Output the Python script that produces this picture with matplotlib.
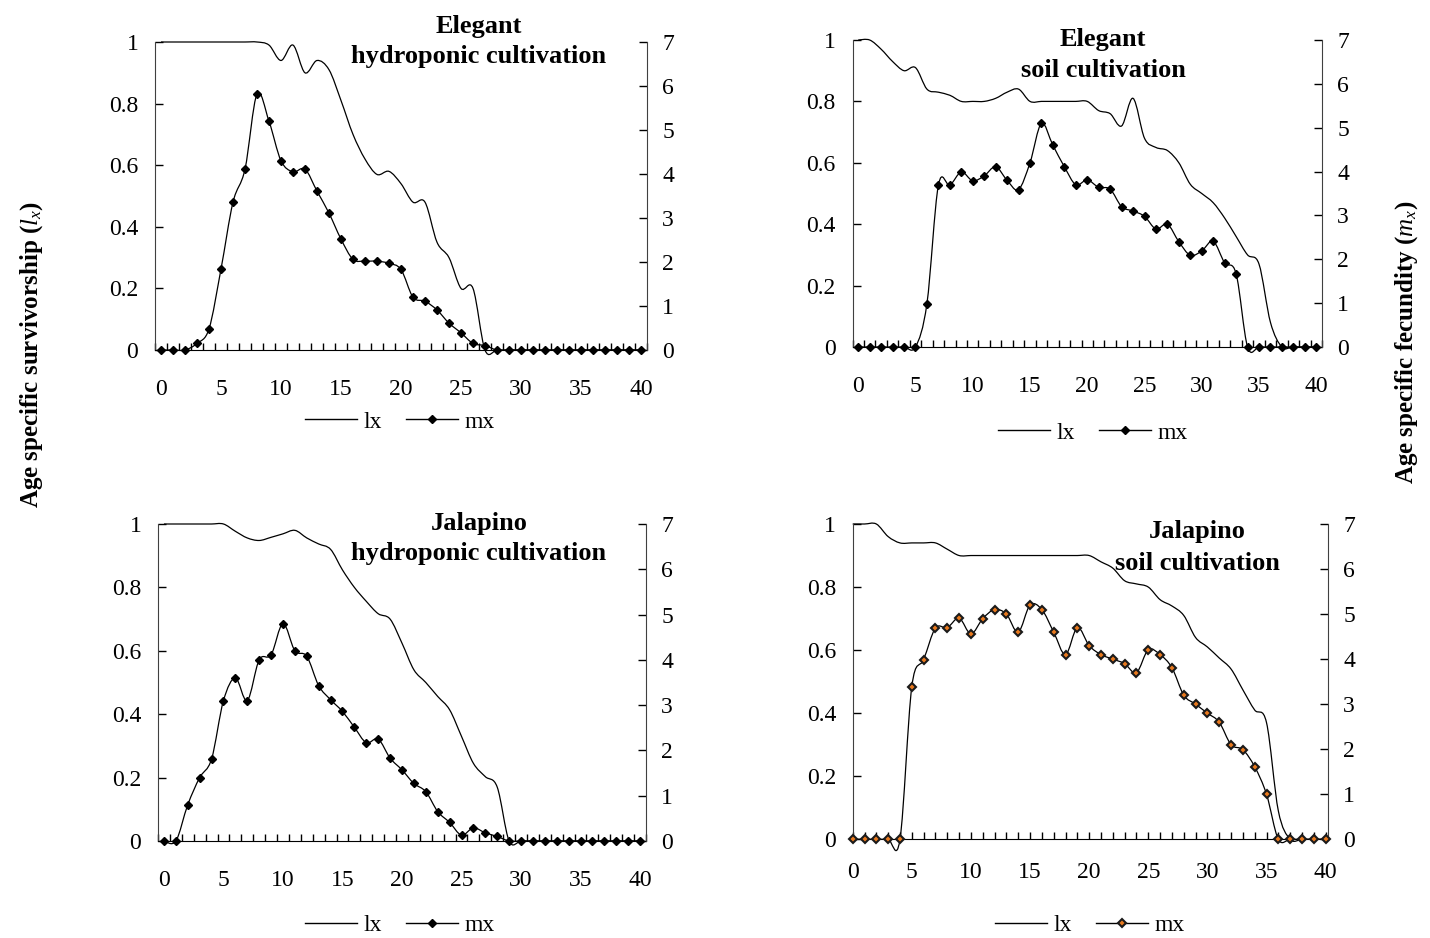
import numpy as np
import matplotlib
matplotlib.use("Agg")
import matplotlib.pyplot as plt
from matplotlib.path import Path
from matplotlib.patches import PathPatch
from matplotlib.lines import Line2D

plt.rcParams['font.family'] = ['Liberation Serif', 'DejaVu Serif']
plt.rcParams['mathtext.fontset'] = 'custom'
plt.rcParams['mathtext.rm'] = 'Liberation Serif'
plt.rcParams['mathtext.it'] = 'Liberation Serif:italic'
plt.rcParams['mathtext.bf'] = 'Liberation Serif:bold'

days = list(range(41))

# Elegant hydroponic
eh_lx = [1, 1, 1, 1, 1, 1, 1, 1, 1, 0.99, 0.94, 0.99, 0.90, 0.94, 0.91, 0.81, 0.70, 0.62, 0.57, 0.58,
         0.54, 0.48, 0.48, 0.35, 0.30, 0.20, 0.20, 0, 0, 0, 0, 0, 0, 0, 0, 0, 0, 0, 0, 0, 0]
eh_mx = [0, 0, 0, 0.15, 0.48, 1.84, 3.36, 4.11, 5.82, 5.20, 4.30, 4.05, 4.11, 3.61, 3.11, 2.52, 2.06, 2.02, 2.02, 1.97,
         1.83, 1.20, 1.11, 0.91, 0.61, 0.39, 0.15, 0.10, 0, 0, 0, 0, 0, 0, 0, 0, 0, 0, 0, 0, 0]

# Elegant soil
es_lx = [1, 1, 0.97, 0.93, 0.90, 0.91, 0.84, 0.83, 0.82, 0.80, 0.80, 0.80, 0.81, 0.83, 0.84, 0.80, 0.80, 0.80, 0.80, 0.80,
         0.80, 0.77, 0.76, 0.72, 0.81, 0.68, 0.65, 0.64, 0.60, 0.53, 0.50, 0.47, 0.42, 0.36, 0.30, 0.27, 0.08, 0, 0, 0, 0]
es_mx = [0, 0, 0, 0, 0, 0, 0.99, 3.69, 3.69, 3.99, 3.79, 3.90, 4.11, 3.80, 3.59, 4.20, 5.10, 4.60, 4.11, 3.70,
         3.81, 3.64, 3.60, 3.20, 3.10, 2.98, 2.69, 2.80, 2.40, 2.09, 2.19, 2.41, 1.92, 1.67, 0, 0, 0, 0, 0, 0, 0]

# Jalapino hydroponic
jh_lx = [1, 1, 1, 1, 1, 1, 0.977, 0.956, 0.948, 0.958, 0.969, 0.98, 0.956, 0.937, 0.92, 0.855, 0.80, 0.756, 0.717, 0.70,
         0.624, 0.54, 0.50, 0.456, 0.414, 0.33, 0.245, 0.203, 0.17, 0, 0, 0, 0, 0, 0, 0, 0, 0, 0, 0, 0]
jh_mx = [0, 0, 0.80, 1.40, 1.81, 3.10, 3.60, 3.10, 4.00, 4.11, 4.80, 4.20, 4.08, 3.43, 3.12, 2.86, 2.51, 2.17, 2.25, 1.83,
         1.57, 1.27, 1.09, 0.65, 0.41, 0.13, 0.29, 0.18, 0.10, 0, 0, 0, 0, 0, 0, 0, 0, 0, 0, 0, 0]

# Jalapino soil
js_lx = [1, 1, 1, 0.96, 0.94, 0.94, 0.94, 0.94, 0.92, 0.90, 0.90, 0.90, 0.90, 0.90, 0.90, 0.90, 0.90, 0.90, 0.90, 0.90,
         0.90, 0.88, 0.86, 0.82, 0.81, 0.80, 0.76, 0.74, 0.71, 0.64, 0.61, 0.575, 0.54, 0.474, 0.41, 0.37, 0.09, 0, 0, 0, 0]
js_mx = [0, 0, 0, 0, 0, 3.39, 3.99, 4.69, 4.70, 4.91, 4.56, 4.90, 5.10, 5.00, 4.60, 5.20, 5.10, 4.60, 4.10, 4.70,
         4.30, 4.10, 4.00, 3.90, 3.70, 4.21, 4.10, 3.81, 3.20, 3.00, 2.80, 2.60, 2.10, 1.99, 1.61, 1.00, 0, 0, 0, 0, 0]

panel_titles = [("Elegant", "hydroponic cultivation"), ("Elegant", "soil cultivation"),
                ("Jalapino", "hydroponic cultivation"), ("Jalapino", "soil cultivation")]
lx_ticks = [0, 0.2, 0.4, 0.6, 0.8, 1.0]
lx_labels = ["0", "0.2", "0.4", "0.6", "0.8", "1"]
mx_ticks = [0, 1, 2, 3, 4, 5, 6, 7]
x_major = [0, 5, 10, 15, 20, 25, 30, 35, 40]


def smooth_path(x, y):
    pts = np.column_stack([x, y]).astype(float)
    n = len(pts)
    verts = [pts[0]]
    codes = [Path.MOVETO]
    for i in range(n - 1):
        p0 = pts[i - 1] if i > 0 else pts[i]
        p1 = pts[i]
        p2 = pts[i + 1]
        p3 = pts[i + 2] if i + 2 < n else pts[i + 1]
        c1 = p1 + (p2 - p0) / 6.0
        c2 = p2 - (p3 - p1) / 6.0
        verts += [c1, c2, p2]
        codes += [Path.CURVE4] * 3
    return Path(verts, codes)


W, H = 1430, 938
fig = plt.figure(figsize=(W / 100, H / 100), dpi=100)


def fx(px):
    return px / W


def fy(py):
    return 1 - py / H


rects = [
    (155, 647, 42, 350),
    (852.5, 1322, 40, 347),
    (158, 646, 524, 841),
    (852.7, 1328, 524, 839.3),
]
data = [(eh_lx, eh_mx), (es_lx, es_mx), (jh_lx, jh_mx), (js_lx, js_mx)]
title_pos = [(479, 33, 63), (1103, 46, 77), (479, 530, 560), (1197, 538, 570)]
legend_pos = [(400, 422), (1093, 433), (400, 925), (1090, 925)]

TS = 17
for k in range(4):
    l, r, t, b = rects[k]
    ax = fig.add_axes([fx(l), fy(b), (r - l) / W, (b - t) / H])
    ax2 = ax.twinx()
    lx, mx = data[k]
    ax.add_patch(PathPatch(smooth_path(days, lx), fill=False, edgecolor='black', lw=0.9, clip_on=False))
    ax2.add_patch(PathPatch(smooth_path(days, mx), fill=False, edgecolor='black', lw=0.9, clip_on=False))
    if k == 3:
        mk = dict(marker='D', ms=4.2, mfc='#E8791E', mec='#1a1a1a', mew=1.5)
        ax2.plot(days, mx, linestyle='none', clip_on=False, zorder=5, **mk)
    else:
        mk = dict(marker='D', ms=3.6, mfc='black', mec='black')
        ax2.plot(days, mx, linestyle='none', clip_on=False, zorder=5, **mk)
    ax.set_ylim(0, 1)
    ax2.set_ylim(0, 7)
    if k == 3:
        ax.set_xlim(0, 40.2)
    else:
        ax.set_xlim(-0.5, 40.5)
    ax.set_yticks(lx_ticks)
    ax.set_yticklabels(lx_labels)
    ax2.set_yticks(mx_ticks)
    ax.set_xticks(x_major)
    if k == 3:
        ax.set_xticks(np.arange(0, 41, 1), minor=True)
        ax.tick_params(axis='x', which='major', direction='in', length=5, width=1, pad=16, labelsize=TS)
    else:
        ax.set_xticks(np.arange(-0.5, 41, 1), minor=True)
        ax.tick_params(axis='x', which='major', length=0, pad=21, labelsize=TS)
    ax.tick_params(axis='x', which='minor', direction='in', length=5, width=1)
    ax.tick_params(axis='y', direction='in', length=6, width=1, pad=12, labelsize=TS)
    ax2.tick_params(axis='y', direction='in', length=6, width=1, pad=11, labelsize=TS)
    for a in (ax, ax2):
        a.spines['top'].set_visible(False)
    ax.spines['right'].set_visible(False)
    ax2.spines['left'].set_visible(False)
    ax2.spines['bottom'].set_visible(False)
    ax.spines['left'].set_color('#404040')
    ax2.spines['right'].set_color('#404040')
    ax.spines['bottom'].set_color('black')
    ax.patch.set_visible(False)

    tx, b1, b2 = title_pos[k]
    fig.text(fx(tx), fy(b1), panel_titles[k][0], ha='center', va='baseline', fontsize=19, fontweight='bold')
    fig.text(fx(tx), fy(b2), panel_titles[k][1], ha='center', va='baseline', fontsize=19, fontweight='bold')

    h1 = Line2D([], [], color='black', lw=1)
    h2 = Line2D([], [], color='black', lw=1, **mk)
    lgx, lgy = legend_pos[k]
    fig.legend([h1, h2], ['lx', 'mx'], loc='center', bbox_to_anchor=(fx(lgx), fy(lgy)), ncol=2,
               frameon=False, fontsize=TS, handlelength=2.2, handletextpad=0.3, columnspacing=1.0)

fig.text(fx(32), fy(354), r'Age specific survivorship ($l_x$)', rotation=90, ha='center', va='center',
         fontsize=18, fontweight='bold')
fig.text(fx(1407), fy(342), r'Age specific fecundity ($m_x$)', rotation=90, ha='center', va='center',
         fontsize=18, fontweight='bold')

fig.savefig('out.png', dpi=100)
